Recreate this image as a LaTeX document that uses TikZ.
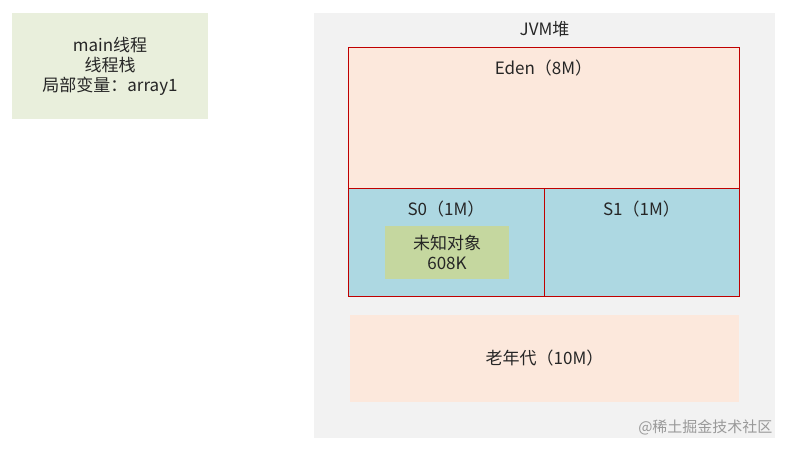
\documentclass[tikz,border=0pt]{standalone}
\usepackage{fontspec}
\setmainfont{Noto Sans CJK SC}
\usetikzlibrary{positioning}
\definecolor{stackgreen}{HTML}{E9EFDC}
\definecolor{heapgray}{HTML}{F2F2F2}
\definecolor{edenpeach}{HTML}{FCE8DC}
\definecolor{survblue}{HTML}{ADD8E2}
\definecolor{objgreen}{HTML}{C5D79F}
\definecolor{edgered}{HTML}{C00000}
\tikzset{
  area/.style={inner sep=0pt, outer sep=0pt, anchor=north west},
  gen/.style={area, fill=edenpeach, draw=edgered, line width=0.8pt},
  surv/.style={area, fill=survblue, draw=edgered, line width=0.8pt},
  lbl/.style={font=\fontsize{17}{20}\selectfont, text=black!85, align=center}
}
\begin{document}
\begin{tikzpicture}[x=1pt, y=-1pt]
\useasboundingbox (0,0) rectangle (789,452);
% thread stack
\node[area, fill=stackgreen, minimum width=196pt, minimum height=106pt] (stack) at (12,13) {};
\node[lbl] (stacktext) at (stack.center) {main线程\\线程栈\\局部变量：array1};
% heap
\node[area, fill=heapgray, minimum width=461pt, minimum height=425pt] (heap) at (314,13) {};
\node[lbl, below=5pt of heap.north] (heaptitle) {JVM堆};
\node[gen, minimum width=391pt, minimum height=141pt] (eden) at (348,47) {};
\node[lbl, below=9pt of eden.north] (edentext) {Eden（8M）};
\node[surv, minimum width=196pt, minimum height=108pt] (s0) at (348,188) {};
\node[surv, minimum width=195pt, minimum height=108pt] (s1) at (544,188) {};
\node[lbl, below=9pt of s0.north] (s0text) {S0（1M）};
\node[lbl, below=9pt of s1.north] (s1text) {S1（1M）};
\node[area, fill=objgreen, minimum width=124pt, minimum height=53pt] (obj) at (385,226) {};
\node[lbl] (objtext) at (obj.center) {未知对象\\608K};
\node[area, fill=edenpeach, minimum width=389pt, minimum height=87pt] (old) at (350,315) {};
\node[lbl] (oldtext) at (old.center) {老年代（10M）};
% watermark
\node[font=\fontsize{15}{18}\selectfont, text=black!40, anchor=east] (mark) at (776,427) {@稀土掘金技术社区};
\end{tikzpicture}
\end{document}
